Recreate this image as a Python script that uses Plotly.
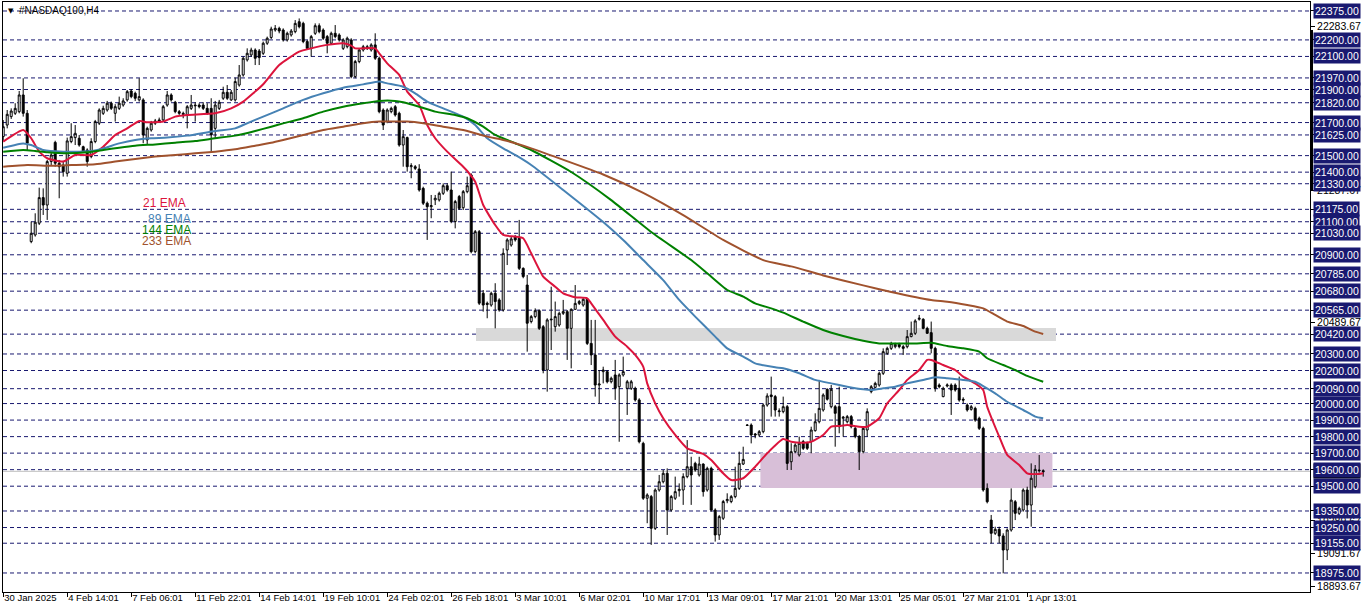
import plotly.graph_objects as go

# ---------------- data ----------------
bars = list(range(261))

opens = [21615,21685,21736,21756,21766,21867,21756,20980,21020,21091,
21246,21201,21464,21580,21454,21443,21393,21585,21609,21605,
21554,21534,21494,21585,21696,21756,21776,21817,21756,21786,
21806,21837,21891,21877,21837,21837,21595,21655,21696,21716,
21716,21806,21867,21823,21766,21756,21746,21786,21806,21806,
21806,21786,21786,21665,21786,21847,21883,21837,21837,21927,
21988,22079,22109,22139,22133,22119,22180,22215,22260,22270,
22260,22200,22230,22250,22310,22300,22190,22149,22240,22286,
22260,22220,22180,22240,22230,22149,22159,22200,21978,22069,
22139,22159,22139,22170,22089,21776,21706,21766,21796,21756,
21564,21609,21433,21433,21419,21302,21212,21191,21232,21232,
21272,21318,21292,21101,21252,21185,21282,21383,20919,21040,
20667,20607,20596,20667,20627,20566,20929,20959,21010,21000,
20818,20717,20496,20526,20562,20465,20203,20506,20465,20475,
20546,20556,20455,20570,20606,20596,20631,20364,20294,20112,
20193,20193,20132,20173,20102,20173,20092,20092,20092,20022,
19759,19427,19437,19245,19477,19527,19578,19356,19427,19473,
19477,19558,19618,19638,19568,19634,19477,19608,19356,19205,
19306,19412,19407,19437,19487,19634,19870,19870,19816,19810,
19830,19991,20052,20042,19951,19951,19981,19648,19709,19689,
19770,19760,19770,19836,19890,19961,20086,19981,19981,19981,
19911,19890,19921,19850,19800,19709,19840,20072,20098,20112,
20183,20304,20334,20344,20358,20344,20344,20405,20425,20510,
20510,20455,20429,20334,20112,20042,20106,20112,20112,20092,
20026,19991,19965,19971,19911,19850,19487,19295,19215,19239,
19199,19114,19235,19406,19336,19356,19477,19386,19497,19598,
19594]

highs = [21715,21776,21786,21817,21891,21968,21776,21101,21151,21306,
21302,21474,21524,21590,21474,21468,21609,21696,21685,21625,
21560,21544,21605,21716,21786,21802,21831,21827,21811,21857,
21847,21897,21903,21887,21968,21847,21675,21710,21722,21730,
21806,21891,21877,21831,21776,21766,21806,21867,21823,21817,
21823,21817,21847,21831,21837,21917,21927,21897,21972,22048,
22099,22149,22153,22149,22145,22190,22220,22280,22290,22280,
22270,22250,22266,22320,22330,22310,22200,22230,22300,22300,
22270,22230,22250,22290,22240,22210,22220,22210,22079,22149,
22170,22170,22180,22240,22099,21786,21786,21796,21806,21766,
21655,21615,21454,21443,21448,21312,21222,21262,21262,21282,
21332,21332,21403,21232,21262,21292,21373,21393,21050,21050,
20687,20617,20677,20728,20637,20939,21000,21010,21020,21111,
20824,20778,20536,20576,20570,20475,20516,20707,20617,20556,
20627,20566,20576,20717,20627,20637,20637,20506,20506,20203,
20223,20203,20163,20264,20183,20284,20143,20143,20102,20032,
19769,19457,19447,19487,19568,19598,19608,19447,19558,19517,
19578,19779,19678,19648,19678,19638,19618,19618,19366,19326,
19417,19457,19447,19618,19709,19739,19876,19880,19822,19840,
20001,20062,20163,20052,19971,20042,19991,19760,19760,19800,
19780,19770,19860,19941,20143,20062,20092,20112,19991,20102,
19925,19931,19931,19860,19810,19860,19971,20112,20132,20193,
20334,20344,20374,20368,20368,20354,20445,20496,20510,20536,
20516,20465,20496,20344,20122,20102,20122,20122,20122,20163,
20038,20001,19991,19981,19921,19860,19517,19326,19255,19255,
19215,19245,19487,19416,19376,19487,19497,19638,19628,19689,
19602]

lows = [21590,21665,21722,21746,21756,21736,21534,20970,21010,21080,
21141,21111,21443,21433,21242,21373,21373,21575,21564,21554,
21520,21433,21484,21575,21685,21746,21766,21776,21706,21776,
21796,21827,21847,21831,21827,21575,21564,21645,21685,21702,
21706,21796,21827,21756,21746,21726,21665,21776,21706,21786,
21776,21746,21524,21605,21776,21837,21837,21831,21827,21917,
21978,22069,22099,22048,22048,22109,22170,22205,22250,22240,
22190,22190,22220,22240,22270,22180,22139,22099,22230,22240,
22200,22119,22170,22210,22190,22139,22149,21968,21968,22059,
22129,22139,22129,22079,21756,21655,21696,21756,21736,21554,
21433,21403,21363,21413,21282,21201,20990,21121,21201,21222,
21262,21282,21091,21060,21171,21171,21272,20909,20909,20596,
20556,20516,20586,20455,20556,20556,20838,20949,20980,20808,
20758,20314,20485,20516,20445,20183,20072,20324,20435,20465,
20536,20264,20213,20566,20596,20586,20354,20233,20042,20001,
20122,20122,20122,20022,19769,20163,19931,20082,20012,19759,
19417,19276,19145,19235,19467,19517,19205,19346,19417,19437,
19387,19548,19387,19588,19558,19437,19467,19346,19165,19175,
19296,19397,19397,19427,19477,19628,19864,19759,19790,19800,
19820,19981,19921,19921,19921,19941,19598,19598,19699,19679,
19719,19719,19699,19830,19880,19951,20018,19971,19739,19820,
19800,19880,19850,19790,19598,19699,19800,20062,20092,20102,
20173,20294,20324,20334,20334,20294,20334,20401,20415,20502,
20449,20421,20304,20072,20092,20038,20098,19931,20072,20011,
20001,19951,19957,19890,19840,19467,19396,19154,19205,19154,
18973,19053,19225,19295,19326,19346,19305,19255,19487,19582,
19558]

closes = [21675,21750,21770,21786,21867,21756,21575,21030,21097,21246,
21201,21464,21504,21454,21433,21403,21589,21615,21635,21564,
21528,21464,21585,21706,21776,21786,21817,21786,21796,21817,
21831,21887,21857,21847,21857,21625,21665,21696,21710,21710,
21796,21867,21837,21766,21756,21750,21796,21806,21802,21796,
21786,21756,21625,21806,21823,21883,21847,21883,21948,21988,
22089,22119,22139,22089,22093,22180,22210,22266,22270,22254,
22200,22240,22254,22300,22280,22190,22149,22220,22286,22250,
22210,22180,22240,22220,22200,22200,22210,21978,22069,22139,
22159,22149,22170,22089,21766,21685,21776,21786,21746,21564,
21615,21433,21439,21423,21292,21212,21191,21197,21242,21272,
21318,21292,21101,21222,21181,21282,21318,20919,21040,20607,
20596,20600,20667,20617,20566,20909,20990,20996,20990,20818,
20768,20486,20526,20562,20455,20203,20506,20510,20526,20546,
20556,20455,20570,20606,20617,20631,20364,20294,20112,20118,
20203,20132,20153,20092,20173,20193,20132,20132,20022,19769,
19427,19447,19245,19477,19527,19578,19356,19437,19467,19481,
19558,19618,19568,19598,19634,19467,19608,19356,19205,19316,
19407,19420,19437,19487,19638,19662,19868,19810,19810,19830,
19991,20046,20042,19961,19955,19981,19638,19709,19749,19760,
19729,19729,19840,19890,19971,20052,20026,20086,19941,19860,
19917,19921,19860,19800,19709,19850,19951,20102,20122,20183,
20314,20334,20364,20358,20344,20334,20405,20425,20500,20516,
20455,20425,20334,20092,20102,20092,20112,20082,20082,20021,
20021,19961,19981,19900,19850,19477,19406,19215,19239,19199,
19114,19235,19416,19336,19366,19477,19386,19548,19602,19594,
19588]

tick_bars = [0, 16, 32, 48, 64, 80, 96, 112, 128, 144, 160, 176, 192, 208, 224, 240, 256]
tick_text = ["30 Jan 2025", "4 Feb 14:01", "7 Feb 06:01", "11 Feb 22:01", "14 Feb 14:01",
             "19 Feb 10:01", "24 Feb 02:01", "26 Feb 18:01", "3 Mar 10:01", "6 Mar 02:01",
             "10 Mar 17:01", "13 Mar 09:01", "17 Mar 21:01", "20 Mar 13:01", "25 Mar 05:01",
             "27 Mar 21:01", "1 Apr 13:01"]

ema21_bars = [0,5,7,9,11,15,18,22,25,28,31,34,36,40,43,46,53,57,60,65,69,74,77,81,85,87,88,93,94,96,
              99,101,104,106,108,111,115,116,118,120,123,125,128,130,132,135,138,140,143,146,
              147,150,153,156,158,160,161,163,165,168,171,175,177,180,182,185,188,191,195,197,
              200,202,205,207,209,211,214,216,219,221,224,226,229,231,232,235,238,240,243,245,
              246,249,251,254,256,259,260]
ema21_vals = [21585,21655,21605,21524,21484,21464,21504,21504,21554,21625,21665,21710,21702,21706,21736,
              21746,21756,21786,21827,21932,22048,22129,22149,22170,22180,22165,22149,22149,22119,22058,
              21988,21887,21806,21685,21605,21524,21433,21407,21342,21201,21080,21020,21010,21000,20909,
              20768,20707,20667,20643,20637,20606,20506,20405,20344,20294,20223,20122,20001,19911,19810,
              19729,19695,19658,19578,19537,19548,19618,19699,19785,19769,19763,19769,19810,19860,19864,
              19870,19860,19860,19911,20001,20082,20143,20203,20264,20264,20233,20203,20163,20122,20082,
              19981,19800,19689,19628,19578,19574,19578]

ema89_bars = [0,5,7,10,15,19,22,25,29,33,37,41,46,53,58,60,63,67,70,75,80,85,90,94,96,100,103,106,110,115,
              118,121,125,128,132,140,150,155,160,165,169,173,178,181,185,188,193,195,199,203,
              207,211,215,217,220,223,226,230,233,236,240,243,245,248,251,255,258,260]
ema89_vals = [21548,21574,21564,21534,21524,21524,21528,21544,21574,21595,21605,21609,21621,21649,21665,
              21685,21716,21756,21786,21837,21877,21911,21931,21948,21937,21917,21877,21827,21786,21736,
              21685,21605,21544,21504,21443,21292,21098,20989,20868,20747,20627,20526,20405,20334,20284,
              20243,20219,20213,20183,20143,20122,20102,20086,20082,20092,20102,20122,20143,20159,20153,
              20143,20132,20106,20062,20011,19961,19921,19911]

ema144_bars = [0,5,8,11,16,21,25,29,33,38,43,48,53,58,63,67,70,75,80,85,90,94,98,100,104,108,113,116,120,123,
               128,132,142,152,162,172,176,181,185,188,192,195,200,205,210,215,219,223,228,232,
               236,240,244,246,250,253,256,260]
ema144_vals = [21524,21534,21528,21520,21514,21520,21534,21548,21560,21568,21578,21588,21605,21621,21649,
               21675,21695,21726,21766,21796,21817,21831,21831,21823,21796,21766,21746,21726,21675,21625,
               21575,21534,21401,21231,21038,20868,20788,20687,20647,20606,20576,20550,20496,20445,20409,
               20380,20364,20364,20364,20368,20348,20334,20314,20274,20233,20203,20167,20132]

ema233_bars = [0,6,12,17,23,28,33,38,43,48,53,58,63,67,70,75,80,85,90,94,98,101,105,110,115,118,121,125,128,132,
               150,160,170,180,190,197,205,215,222,232,236,241,245,248,251,255,258,260]
ema233_vals = [21433,21443,21439,21443,21448,21464,21480,21494,21504,21514,21524,21538,21560,21578,21595,
               21625,21655,21675,21696,21706,21706,21706,21696,21675,21655,21635,21615,21595,21575,21544,
               21386,21275,21140,20990,20868,20830,20775,20715,20675,20626,20616,20596,20576,20536,20496,
               20469,20435,20421]

level_prices = [22375, 22200, 22100, 21970, 21900, 21820, 21700, 21625, 21500, 21400, 21330,
                21175, 21100, 21030, 20900, 20785, 20680, 20565, 20420, 20300, 20200, 20090,
                20000, 19900, 19800, 19700, 19600, 19500, 19350, 19250, 19155, 18975]
scale_prices = [22283.67, 21287.67, 20489.67, 19289.67, 19091.67, 18893.67]
scale_text = ["22283.67", "21287.67", "20489.67", "19289.67", "19091.67", "18893.67"]

gray_zone = [118.2, 263.2, 20378, 20457]     # bar from, bar to, price low, price high
pink_zone = [189.3, 262.3, 19489, 19701]
bid_price = 19590

ema_names = ["21 EMA", "89 EMA", "144 EMA", "233 EMA"]
ema_colors = ["#DC143C", "#4682B4", "#008000", "#A0522D"]

# ---------------- figure ----------------
NAVY = "#191970"
FONT = "Liberation Sans"

fig = go.Figure()

shapes = []
for p in level_prices:
    shapes.append(dict(type="line", xref="paper", x0=0, x1=1, yref="y", y0=p, y1=p,
                       line=dict(color=NAVY, width=1, dash="4px,3px"), layer="below"))
shapes.append(dict(type="rect", xref="x", yref="y", x0=gray_zone[0], x1=gray_zone[1],
                   y0=gray_zone[2], y1=gray_zone[3], fillcolor="#D9D9D9", line=dict(width=0), layer="below"))
shapes.append(dict(type="rect", xref="x", yref="y", x0=pink_zone[0], x1=pink_zone[1],
                   y0=pink_zone[2], y1=pink_zone[3], fillcolor="#D8BFD8", line=dict(width=0), layer="below"))
shapes.append(dict(type="line", xref="paper", x0=0, x1=1, yref="y", y0=bid_price, y1=bid_price,
                   line=dict(color="#C0C0C0", width=1), layer="below"))
# dark marker on the price scale (top right)
shapes.append(dict(type="rect", xref="paper", yref="paper", x0=1.0, x1=1.0023, y0=0.6814, y1=0.9525,
                   fillcolor="black", line=dict(width=0), layer="above"))

fig.add_trace(go.Candlestick(
    x=bars, open=opens, high=highs, low=lows, close=closes,
    increasing=dict(fillcolor="white", line=dict(color="black", width=1)),
    decreasing=dict(fillcolor="black", line=dict(color="black", width=1)),
    whiskerwidth=0, showlegend=False, hoverinfo="skip"))

for bx, vals, col, name in [(ema21_bars, ema21_vals, ema_colors[0], ema_names[0]),
                            (ema89_bars, ema89_vals, ema_colors[1], ema_names[1]),
                            (ema144_bars, ema144_vals, ema_colors[2], ema_names[2]),
                            (ema233_bars, ema233_vals, ema_colors[3], ema_names[3])]:
    fig.add_trace(go.Scatter(x=bx, y=vals, mode="lines", name=name,
                             line=dict(color=col, width=2, shape="spline", smoothing=0.5),
                             showlegend=False, hoverinfo="skip"))

annotations = []
# EMA text labels on the chart
label_pos = [(40.3, 21213), (41.5, 21117), (40.8, 21050), (40.8, 20984)]
for (lx, ly), name, col in zip(label_pos, ema_names, ema_colors):
    annotations.append(dict(x=lx, y=ly, xref="x", yref="y", text=name, showarrow=False,
                            font=dict(family=FONT, size=12, color=col), xanchor="center", yanchor="middle"))
# title
annotations.append(dict(xref="paper", yref="paper", x=0.002, y=0.985, text="\u25BC", showarrow=False,
                        font=dict(family="DejaVu Sans", size=7, color="black"), xanchor="left", yanchor="middle"))
annotations.append(dict(xref="paper", yref="paper", x=0.011, y=0.985, text="#NASDAQ100,H4", showarrow=False,
                        font=dict(family=FONT, size=10, color="black"), xanchor="left", yanchor="middle"))
# bid price label (mostly hidden under the level boxes)
annotations.append(dict(xref="paper", x=1, xanchor="left", xshift=3, yref="y", y=bid_price, yanchor="middle",
                        text="%.2f" % bid_price, showarrow=False, bgcolor="black", height=12,
                        font=dict(family=FONT, size=10.5, color="white"), borderpad=1))
# level boxes on the price scale
for p in level_prices:
    annotations.append(dict(xref="paper", x=1, xanchor="left", xshift=3, yref="y", y=p, yanchor="middle",
                            text="%.2f" % p, showarrow=False, bgcolor=NAVY, height=12,
                            font=dict(family=FONT, size=10.5, color="white"), borderpad=1))

fig.update_layout(
    width=1362, height=611,
    margin=dict(l=3, r=52, t=2, b=19, pad=0),
    paper_bgcolor="white", plot_bgcolor="white",
    showlegend=False, boxgap=0.3,
    shapes=shapes, annotations=annotations,
    xaxis=dict(range=[-0.05, 326.7], tickmode="array", tickvals=tick_bars, ticktext=tick_text,
               ticks="outside", ticklen=4, tickcolor="black", tickwidth=1, tickangle=0,
               ticklabelposition="outside right", ticklabelstandoff=-3,
               tickfont=dict(family=FONT, size=9.5, color="black"),
               showgrid=False, zeroline=False, showline=True, linecolor="black", linewidth=1, mirror=True,
               rangeslider=dict(visible=False), fixedrange=True, automargin=False),
    yaxis=dict(side="right", range=[18859.9, 22429.4], tickmode="array",
               tickvals=scale_prices + level_prices,
               ticktext=scale_text + [""] * len(level_prices),
               ticks="outside", ticklen=4, tickcolor="black", tickwidth=1,
               tickfont=dict(family=FONT, size=10.5, color="black"),
               showgrid=False, zeroline=False, showline=True, linecolor="black", linewidth=1, mirror=True,
               fixedrange=True, automargin=False),
)

fig.write_html("out.html", config={"displayModeBar": False, "staticPlot": True},
               post_script="document.body.style.margin='0';document.body.style.overflow='hidden';")
